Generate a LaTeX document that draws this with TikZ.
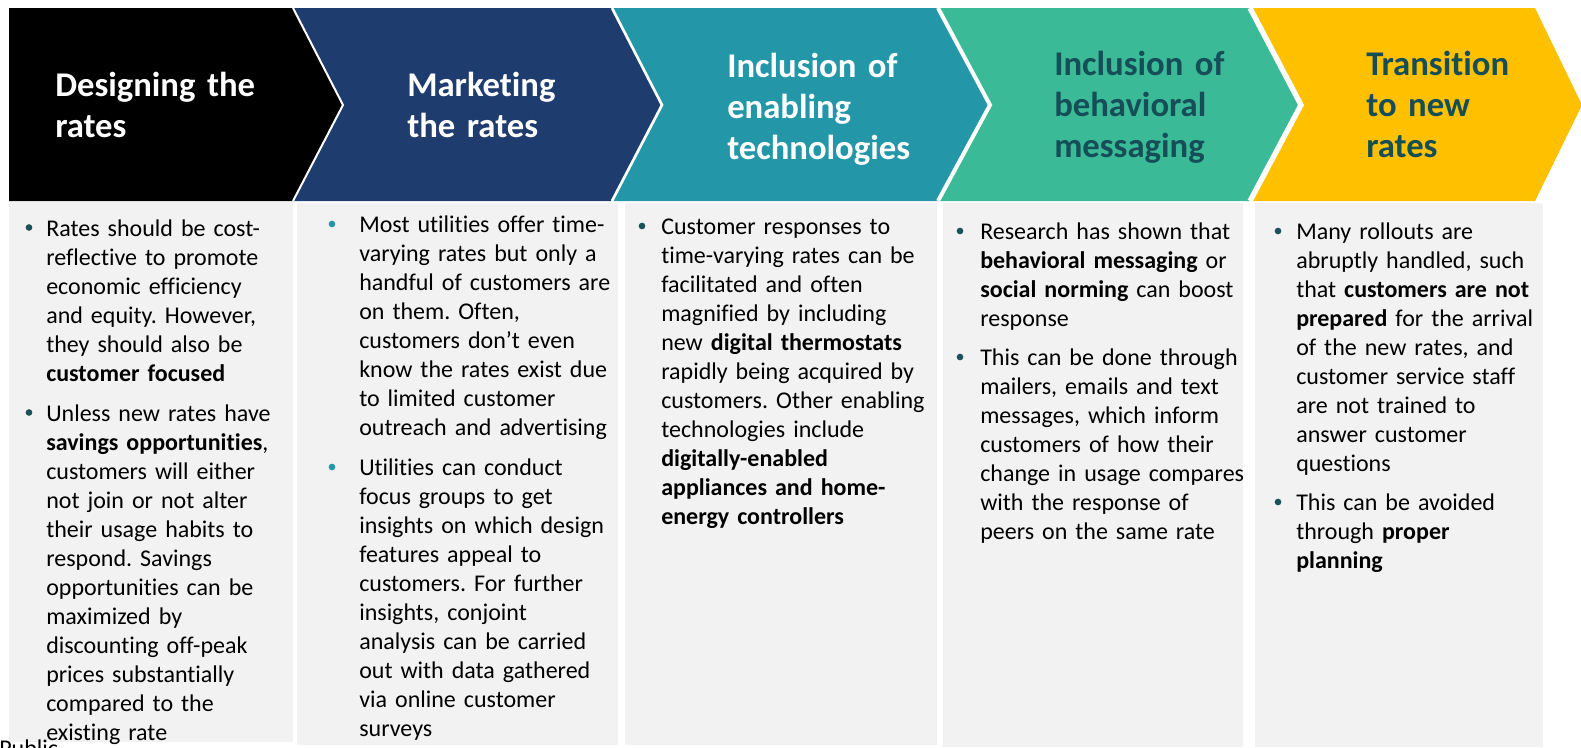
\documentclass[tikz,border=0pt]{standalone}
\usepackage{fontspec}
\setmainfont{Carlito}[Ligatures=NoCommon]
\frenchspacing
\definecolor{cblack}{RGB}{0,0,0}
\definecolor{cnavy}{RGB}{31,60,111}
\definecolor{cteal}{RGB}{35,151,168}
\definecolor{cgreen}{RGB}{58,186,151}
\definecolor{cyellow}{RGB}{255,192,0}
\definecolor{hdark}{RGB}{21,78,87}
\definecolor{panelgray}{RGB}{242,242,242}
\definecolor{bdark}{RGB}{26,82,90}
\definecolor{blight}{RGB}{35,151,168}
\begin{document}
\begin{tikzpicture}[x=0.75pt,y=-0.75pt,
  body/.style={anchor=base west, inner sep=0pt, text width=330pt, align=left,
    font=\fontsize{18}{21.75}\selectfont, text=black},
  head/.style={anchor=base west, inner sep=0pt, text width=300pt, align=left,
    font=\bfseries\fontsize{26}{31.1}\selectfont},
  bul/.style={circle, fill=#1, inner sep=0pt, minimum size=5pt},
  sepline/.style={draw=white, line width=#1, line join=miter}]
\useasboundingbox (0,0) rectangle (1581,747);
\clip (0,0) rectangle (1581,747);

% chevrons
\fill[cblack] (9,8) -- (293,8) -- (343,105) -- (293,201) -- (9,201) -- cycle;
\fill[cnavy] (293,8) -- (612,8) -- (662,105) -- (612,201) -- (293,201) -- (343,105) -- cycle;
\fill[cteal] (612,8) -- (938,8) -- (990,105) -- (938,201) -- (612,201) -- (662,105) -- cycle;
\fill[cgreen] (938,8) -- (1250,8) -- (1301,105) -- (1250,201) -- (938,201) -- (990,105) -- cycle;
\fill[cyellow] (1250,8) -- (1535,8) -- (1582,105) -- (1535,201) -- (1250,201) -- (1301,105) -- cycle;
\draw[sepline=1.5pt] (293,8) -- (343,105) -- (293,201);
\draw[sepline=2pt] (612,8) -- (662,105) -- (612,201);
\draw[sepline=3pt] (938,8) -- (990,105) -- (938,201);
\draw[sepline=4pt] (1250,8) -- (1301,105) -- (1250,201);

% panels
\fill[panelgray] (9,202) rectangle (293,742);
\fill[panelgray] (297,203) rectangle (618,745);
\fill[panelgray] (625,203) rectangle (937,745);
\fill[panelgray] (943,203) rectangle (1243,747);
\fill[panelgray] (1255,203) rectangle (1543,747);

% headers
\node[head, text=white] (h1) at (55,96) {Designing the\\rates};
\node[head, text=white] (h2) at (407,96) {Marketing\\the rates};
\node[head, text=white] (h3) at (727,77) {Inclusion of\\enabling\\technologies};
\node[head, text=hdark] (h4) at (1054,75) {Inclusion of\\behavioral\\messaging};
\node[head, text=hdark] (h5) at (1366,75) {Transition\\to new\\rates};

% column 1
\node[bul=bdark] (b11) at (29,227.5) {};
\node[body] (t11) at (46,236) {Rates should be cost-\\reflective to promote\\economic efficiency\\and equity. However,\\they should also be\\\textbf{customer focused}};
\node[bul=bdark] (b12) at (29,412.5) {};
\node[body] (t12) at (46,421) {Unless new rates have\\\textbf{savings opportunities},\\customers will either\\not join or not alter\\their usage habits to\\respond. Savings\\opportunities can be\\maximized by\\discounting off-peak\\prices substantially\\compared to the\\existing rate};

% column 2
\node[bul=blight] (b21) at (332,224) {};
\node[body] (t21) at (359,232.5) {Most utilities offer time-\\varying rates but only a\\handful of customers are\\on them. Often,\\customers don’t even\\know the rates exist due\\to limited customer\\outreach and advertising};
\node[bul=blight] (b22) at (332,467) {};
\node[body] (t22) at (359,475.5) {Utilities can conduct\\focus groups to get\\insights on which design\\features appeal to\\customers. For further\\insights, conjoint\\analysis can be carried\\out with data gathered\\via online customer\\surveys};

% column 3
\node[bul=bdark] (b31) at (642,226) {};
\node[body] (t31) at (661,234.5) {Customer responses to\\time-varying rates can be\\facilitated and often\\magnified by including\\new \textbf{digital thermostats}\\rapidly being acquired by\\customers. Other enabling\\technologies include\\\textbf{digitally-enabled}\\\textbf{appliances and home-}\\\textbf{energy controllers}};

% column 4
\node[bul=bdark] (b41) at (960,231) {};
\node[body] (t41) at (980,239.5) {Research has shown that\\\textbf{behavioral messaging} or\\\textbf{social norming} can boost\\response};
\node[bul=bdark] (b42) at (960,357) {};
\node[body] (t42) at (980,365.5) {This can be done through\\mailers, emails and text\\messages, which inform\\customers of how their\\change in usage compares\\with the response of\\peers on the same rate};

% column 5
\node[bul=bdark] (b51) at (1278,231) {};
\node[body] (t51) at (1296,239.5) {Many rollouts are\\abruptly handled, such\\that \textbf{customers are not}\\\textbf{prepared} for the arrival\\of the new rates, and\\customer service staff\\are not trained to\\answer customer\\questions};
\node[bul=bdark] (b52) at (1278,502) {};
\node[body] (t52) at (1296,510.5) {This can be avoided\\through \textbf{proper}\\\textbf{planning}};

% cut-off footer text
\node[anchor=base west, inner sep=0pt, font=\fontsize{18}{21.75}\selectfont] (pub) at (-1,756) {Public};
\end{tikzpicture}
\end{document}
